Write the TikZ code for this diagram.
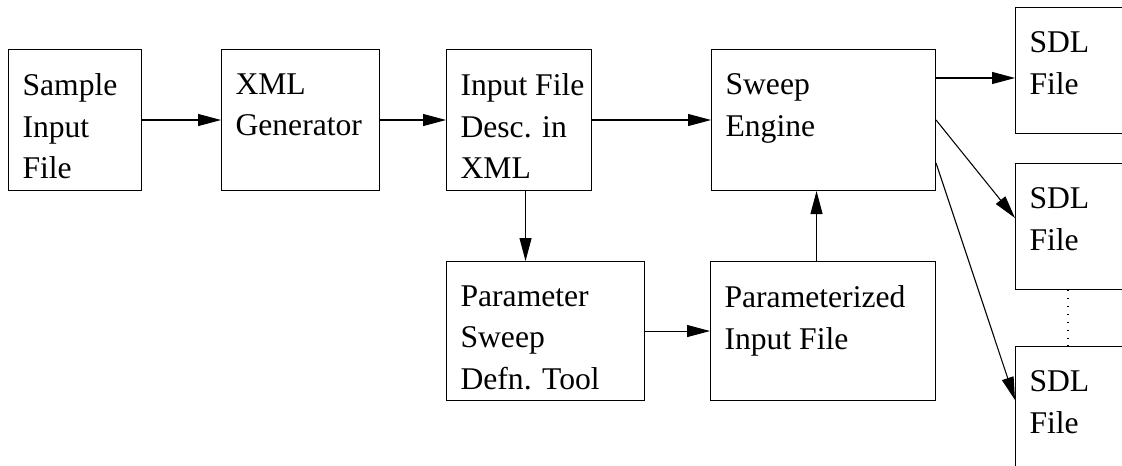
\documentclass[tikz,border=0pt]{standalone}
\usepackage{fontspec}
\setmainfont{Liberation Serif}
\usetikzlibrary{arrows.meta,shapes,positioning}

\begin{document}
\begin{tikzpicture}[x=0.02cm,y=-0.02cm,>={Triangle[length=4.6mm,width=2.4mm]},line width=0.6pt]
    \tikzstyle{format}=[rectangle,draw,line width=0.6pt,minimum height=2.82cm,inner sep=0pt]  % box
    \tikzstyle{txt}=[anchor=north west,align=left,inner xsep=0.28cm,inner ysep=0.48cm,font=\fontsize{18pt}{23.7pt}\selectfont]  % text in the upper left corner
    \tikzstyle{sdl}=[format,minimum width=3.2cm,minimum height=2.52cm]

    \useasboundingbox (0,0) rectangle (1122,466);
    \clip (0,0) rectangle (1122,466);

    % boxes
    \node[format,minimum width=2.66cm,anchor=north west,label={[txt]north west:Sample\\Input\\File}](sample) at (8,49){};
    \node[format,minimum width=3.16cm,right=1.58cm of sample,label={[txt]north west:XML\\Generator}](xmlgen){};
    \node[format,minimum width=2.90cm,right=1.32cm of xmlgen,label={[txt]north west:Input File\\Desc. in\\XML}](desc){};
    \node[format,minimum width=4.48cm,right=2.38cm of desc,label={[txt]north west:Sweep\\Engine}](engine){};
    \node[format,minimum width=3.96cm,minimum height=2.78cm,below=1.4cm of desc.south west,anchor=north west,label={[txt]north west:Parameter\\Sweep\\Defn. Tool}](sweep){};
    \node[format,minimum width=4.50cm,minimum height=2.78cm,right=1.3cm of sweep,label={[txt]north west:Parameterized\\Input File}](param){};
    \node[sdl,right=1.58cm of engine.north east,anchor=north west,yshift=0.84cm,label={[txt]north west:SDL\\File}](sdl1){};
    \node[sdl,below=0.58cm of sdl1,label={[txt]north west:SDL\\File}](sdl2){};
    \node[sdl,below=1.12cm of sdl2,label={[txt]north west:SDL\\File}](sdl3){};

    % arrows
    \draw[->](sample)--(xmlgen);
    \draw[->](xmlgen)--(desc);
    \draw[->](desc)--(engine);
    \draw[->]([xshift=0.13cm]desc.south)--([xshift=0.13cm]desc.south |- sweep.north);
    \draw[->](sweep)--(param);
    \draw[->]([xshift=-0.13cm]param.north)--([xshift=-0.13cm]param.north |- engine.south);
    \draw[->]([yshift=-0.58cm]engine.north east)--([yshift=-0.58cm]engine.north east -| sdl1.west);
    \draw[->](engine.east)--([yshift=-1.1cm]sdl2.north west);
    \draw[->]([yshift=-2.28cm]engine.north east)--([yshift=-1.08cm]sdl3.north west);
    \draw[dash pattern=on 0.8pt off 3.7pt]([xshift=1.06cm]sdl2.south west)--([xshift=1.06cm]sdl3.north west);
\end{tikzpicture}
\end{document}
